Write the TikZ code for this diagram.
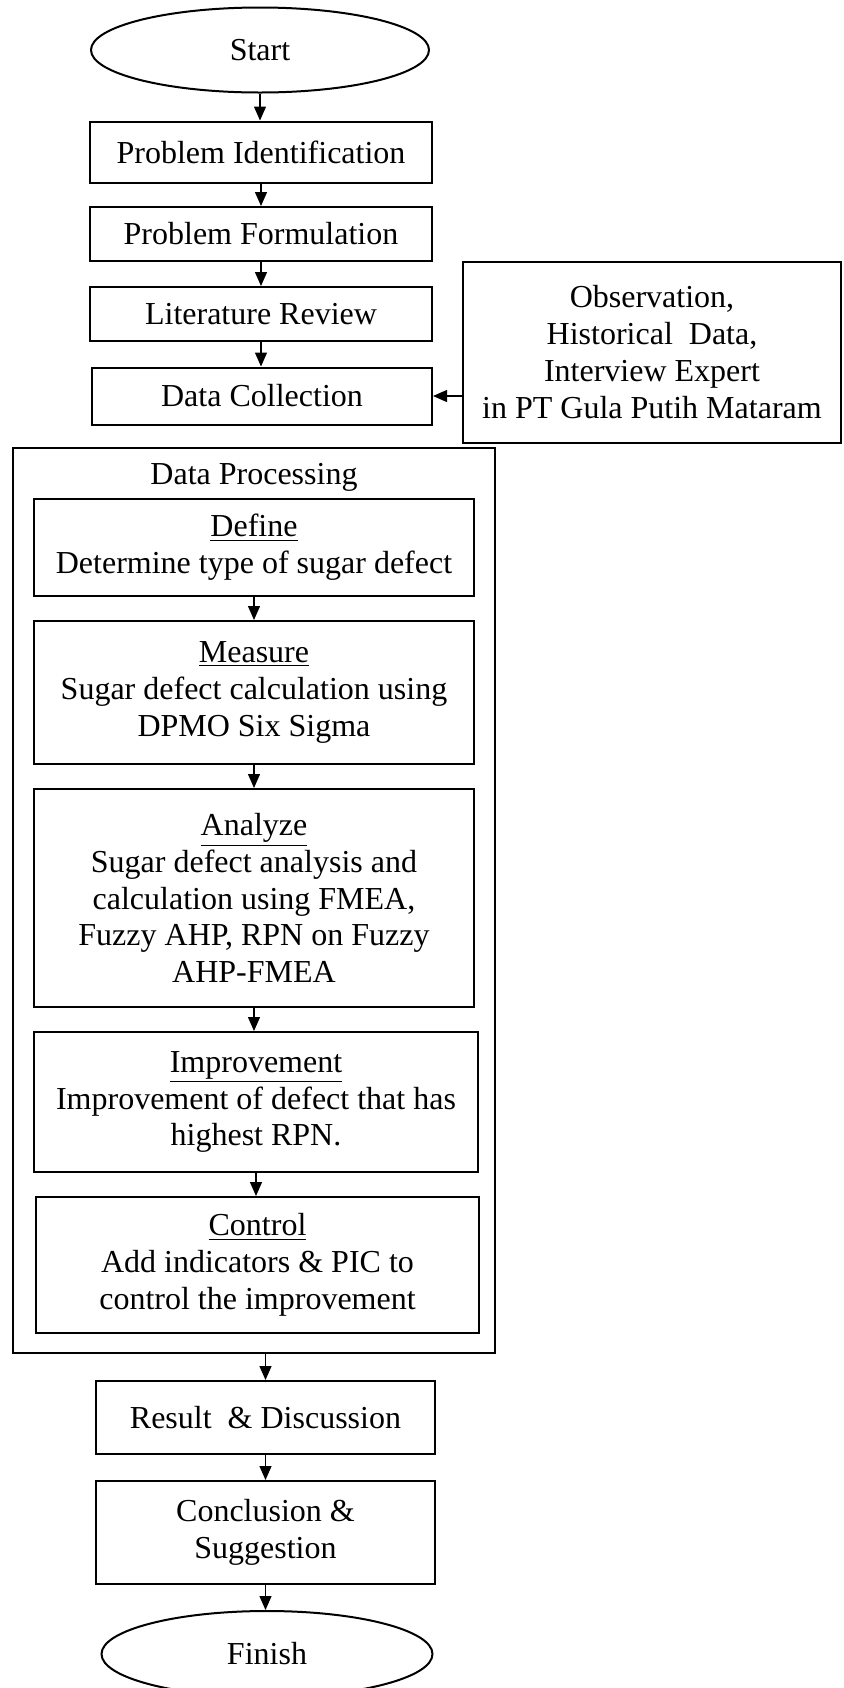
\documentclass[tikz,border=0pt]{standalone}
\usepackage{fontspec}
\setmainfont{Liberation Serif}
\usetikzlibrary{shapes.geometric,arrows.meta}

\begin{document}
\begin{tikzpicture}[x=0.5pt,y=-0.5pt,
    every node/.style={font=\fontsize{16}{18.4}\selectfont,align=center,inner sep=0pt},
    box/.style={draw,line width=1pt,rectangle},
    term/.style={draw,line width=1pt,ellipse},
    arr/.style={line width=0.6pt,-{Triangle[width=6pt,length=7pt]}}]
                \useasboundingbox (0,0) rectangle (843,1688);

                \node[term,minimum width=169pt,minimum height=42.5pt] (start) at (260,50) {Start};
                \node[box,minimum width=171pt,minimum height=30.5pt] (pid) at (261,152) {Problem Identification};
                \node[box,minimum width=171pt,minimum height=27pt] (pform) at (261,234) {Problem Formulation};
                \node[box,minimum width=171pt,minimum height=27pt] (litrev) at (261,314) {Literature Review};
                \node[box,minimum width=170pt,minimum height=28.5pt] (datacol) at (262,396) {Data Collection};
                \node[box,minimum width=189pt,minimum height=90.5pt] (obs) at (652,352)
                    {Observation,\\Historical~ Data,\\Interview Expert\\in PT Gula Putih Mataram};

                % data processing frame
                \node[box,minimum width=241pt,minimum height=452.5pt] (dproc) at (254,900.5) {};
                \node (dproclbl) at (254,477) {Data Processing};
                \node[box,minimum width=220pt,minimum height=48.5pt] (define) at (254,547.5)
                    {\underline{Define}\\Determine type of sugar defect};
                \node[box,minimum width=220pt,minimum height=71.5pt] (measure) at (254,692.5)
                    {\underline{Measure}\\Sugar defect calculation using\\DPMO Six Sigma};
                \node[box,minimum width=220pt,minimum height=109pt] (analyze) at (254,898)
                    {\underline{Analyze}\\Sugar defect analysis and\\calculation using FMEA,\\Fuzzy AHP, RPN on Fuzzy\\AHP-FMEA};
                \node[box,minimum width=222pt,minimum height=70pt] (improve) at (256,1102)
                    {\underline{Improvement}\\Improvement of defect that has\\highest RPN.};
                \node[box,minimum width=221.5pt,minimum height=68pt] (control) at (257.5,1265)
                    {\underline{Control}\\Add indicators \& PIC to\\control the improvement};

                \node[box,minimum width=169.5pt,minimum height=36.5pt] (result) at (265.5,1417.5) {Result~ \& Discussion};
                \node[box,minimum width=169.5pt,minimum height=51.5pt] (concl) at (265.5,1532.5) {Conclusion \&\\Suggestion};
                \node[term,minimum width=165.5pt,minimum height=43pt] (finish) at (267,1654) {Finish};

                \foreach \a/\b in {start/pid,pid/pform,pform/litrev,litrev/datacol,
                    define/measure,measure/analyze,analyze/improve,improve/control,
                    result/concl,concl/finish}{
                    \draw[arr] (\a.south) -- (\a.south |- \b.north);
                }
                \draw[arr] (obs.west |- datacol.east) -- (datacol.east);
                \draw[arr] (result.north |- dproc.south) -- (result.north);
            \end{tikzpicture}
\end{document}
